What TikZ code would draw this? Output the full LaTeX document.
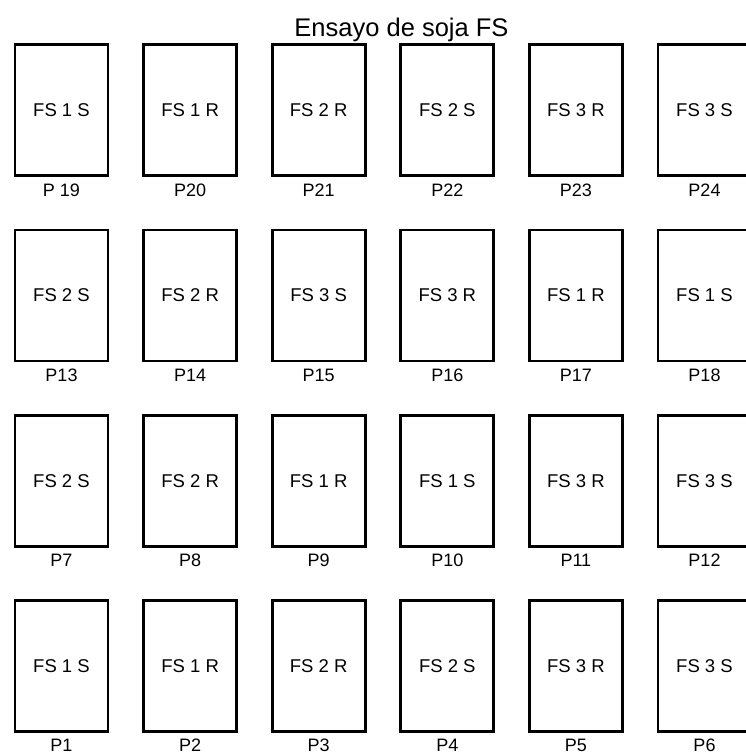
\documentclass[tikz,border=0pt]{standalone}
\usepackage{fontspec}
\setmainfont{Liberation Sans}
\usetikzlibrary{positioning}

\tikzset{
	parcela/.style={draw, line width=2.8pt, minimum width=93pt, minimum height=131pt, inner sep=0pt, font=\fontsize{18.5}{22}\selectfont},
	etiqueta/.style={inner sep=0pt, outer sep=0pt, font=\fontsize{18}{21}\selectfont},
}

\begin{document}
\begin{tikzpicture}
		[x=1pt, y=-1pt]
		\clip (0,0) rectangle (746,756);
		\fill[white] (0,0) rectangle (746,756);
		\node[anchor=base, font=\fontsize{25.5}{30}\selectfont] (titulo) at (401.5,36.5) {Ensayo de soja FS};

		% parcelas, P1 abajo a la izquierda
		\foreach \trt/\lbl [count=\n from 0] in
			{FS 1 S/P1, FS 1 R/P2, FS 2 R/P3, FS 2 S/P4, FS 3 R/P5, FS 3 S/P6,
			 FS 2 S/P7, FS 2 R/P8, FS 1 R/P9, FS 1 S/P10, FS 3 R/P11, FS 3 S/P12,
			 FS 2 S/P13, FS 2 R/P14, FS 3 S/P15, FS 3 R/P16, FS 1 R/P17, FS 1 S/P18,
			 FS 1 S/P 19, FS 1 R/P20, FS 2 R/P21, FS 2 S/P22, FS 3 R/P23, FS 3 S/P24}
		{
			\pgfmathtruncatemacro{\col}{mod(\n,6)}
			\pgfmathtruncatemacro{\fila}{div(\n,6)}
			\node[parcela] (p\n) at (61.5+128.6*\col, 666-185.3*\fila) {\trt};
			\node[etiqueta, below=6.5pt of p\n] (lbl\n) {\lbl};
		}
	\end{tikzpicture}
\end{document}
